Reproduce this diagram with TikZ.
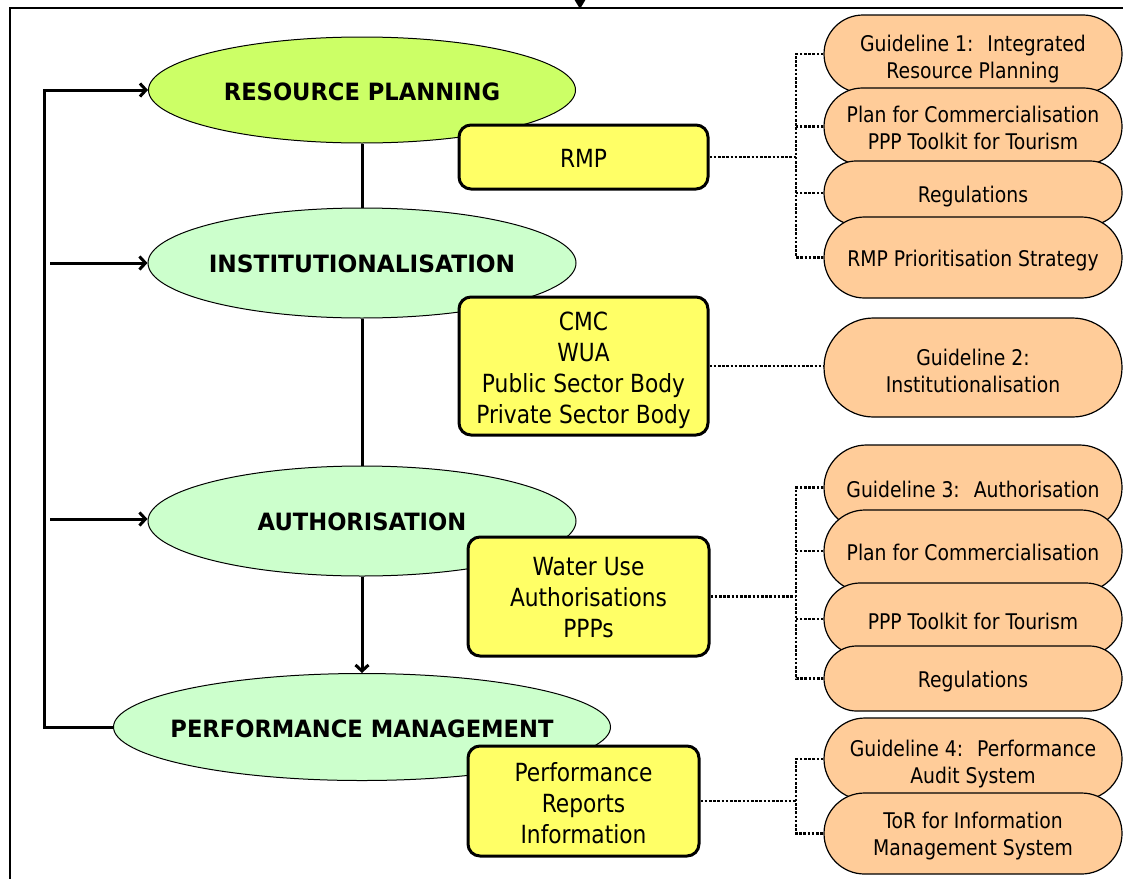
\documentclass[tikz,border=0pt]{standalone}
\usepackage{fontspec}
\setmainfont[FakeStretch=0.87]{DejaVu Sans}
\newfontfamily\ellfont[FakeStretch=0.95]{DejaVu Sans}
\usetikzlibrary{shapes.geometric,shapes.misc,arrows.meta}
\definecolor{cLime}{HTML}{CCFF66}
\definecolor{cMint}{HTML}{CCFFCC}
\definecolor{cYel}{HTML}{FFFF66}
\definecolor{cOrange}{HTML}{FFCC99}
\begin{document}
\begin{tikzpicture}[x=1pt,y=-1pt,
  stage/.style={ellipse, draw, line width=1pt, inner sep=0pt},
  stagetext/.style={inner sep=0pt, font=\ellfont\bfseries\fontsize{23.8}{28}\selectfont},
  infobox/.style={draw, line width=3pt, rounded corners=12pt, fill=cYel, inner sep=0pt},
  boxtext/.style={inner sep=0pt, align=center, font=\fontsize{25}{31}\selectfont},
  pill/.style={rounded rectangle, draw, line width=1.2pt, fill=cOrange, minimum width=298pt, inner sep=0pt},
  pilltext/.style={inner sep=0pt, align=center, font=\fontsize{21.6}{27}\selectfont},
  flow/.style={line width=3pt, -{Straight Barb[length=6pt,width=13pt,line width=3pt]}},
  link/.style={line width=3pt},
  dots/.style={line width=2.6pt, dash pattern=on 2.6pt off 1.6pt}
]
\useasboundingbox (0,0) rectangle (1123,878);

% frame
\draw[line width=2pt] (10,880) -- (10,8) -- (1125,8);
\coordinate (topin) at (580,-10);
\coordinate (topend) at (580,9);
\draw[line width=3pt, -{Triangle[length=14pt,width=16pt]}] (topin) -- (topend);

% stages
\node[stage, fill=cLime, minimum width=427pt, minimum height=106pt] (rp) at (362,90) {};
\node[stagetext] (rpt) at (362,92) {RESOURCE PLANNING};
\node[stage, fill=cMint, minimum width=428pt, minimum height=110pt] (inst) at (362,263) {};
\node[stagetext, xscale=1.03] (instt) at (362,264) {INSTITUTIONALISATION};
\node[stage, fill=cMint, minimum width=428pt, minimum height=110pt] (auth) at (362,521) {};
\node[stagetext] (autht) at (362,522) {AUTHORISATION};
\node[stage, fill=cMint, minimum width=497pt, minimum height=107pt] (pm) at (362,727) {};
\node[stagetext] (pmt) at (362,729) {PERFORMANCE MANAGEMENT};

% stage links
\draw[link] (rp.south) -- (inst.north);
\draw[link] (inst.south) -- (auth.north);
\draw[flow] (auth.south) -- (pm.north);
\draw[flow] (pm.west) -- ++(-69,0) |- (rp.west);
\coordinate (in2) at (50,263);
\coordinate (in3) at (50,519);
\draw[flow] (in2) -- (inst.west);
\draw[flow] (in3) -- (in3 -| auth.west);

% info boxes
\node[infobox, minimum width=249pt, minimum height=64pt] (rmp) at (583.5,157) {};
\node[boxtext] (rmpt) at (583.5,158) {RMP};
\node[infobox, minimum width=249pt, minimum height=138pt] (cmc) at (583.5,366) {};
\node[boxtext] (cmct) at (583.5,370) {CMC\\WUA\\Public Sector Body\\Private Sector Body};
\node[infobox, minimum width=241pt, minimum height=119pt] (wua) at (588.5,596.5) {};
\node[boxtext] (wuat) at (588.5,598) {Water Use\\Authorisations\\PPPs};
\node[infobox, minimum width=231pt, minimum height=110pt] (perf) at (583.5,801) {};
\node[boxtext] (perft) at (583.5,803) {Performance\\Reports\\Information};

% guideline pills
\node[pill, minimum height=78pt] (g1) at (973,54) {};
\node[pilltext] (g1t) at (973,59.5) {Guideline 1:~ Integrated\\Resource Planning};
\node[pill, minimum height=77pt] (g2) at (973,126.5) {};
\node[pilltext] (g2t) at (973,128) {Plan for Commercialisation\\PPP Toolkit for Tourism};
\node[pill, minimum height=64pt] (g3) at (973,193) {};
\node[pilltext] (g3t) at (973,197) {Regulations};
\node[pill, minimum height=81pt] (g4) at (973,257.5) {};
\node[pilltext] (g4t) at (973,261) {RMP Prioritisation Strategy};
\node[pill, minimum height=99pt] (g5) at (973,367.5) {};
\node[pilltext] (g5t) at (973,370.5) {Guideline 2:\\Institutionalisation};
\node[pill, minimum height=85pt] (g6) at (973,487.5) {};
\node[pilltext] (g6t) at (973,489) {Guideline 3:~ Authorisation};
\node[pill, minimum height=82pt] (g7) at (973,551) {};
\node[pilltext] (g7t) at (973,552.5) {Plan for Commercialisation};
\node[pill, minimum height=72pt] (g8) at (973,619) {};
\node[pilltext] (g8t) at (973,621) {PPP Toolkit for Tourism};
\node[pill, minimum height=65pt] (g9) at (973,678.5) {};
\node[pilltext] (g9t) at (973,681.5) {Regulations};
\node[pill, minimum height=82pt] (g10) at (973,759) {};
\node[pilltext] (g10t) at (973,764) {Guideline 4:~ Performance\\Audit System};
\node[pill, minimum height=81pt] (g11) at (973,833.5) {};
\node[pilltext] (g11t) at (973,836.5) {ToR for Information\\Management System};

% dotted connectors
\coordinate (bus) at (796,0);
\draw[dots] (rmp.east) -- (rmp.east -| bus);
\draw[dots] (g1.west) -- (g1.west -| bus) -- (g4.west -| bus) -- (g4.west);
\draw[dots] (g2.west) -- (g2.west -| bus);
\draw[dots] (g3.west) -- (g3.west -| bus);
\draw[dots] (cmc.east) -- (cmc.east -| g5.west);
\draw[dots] (wua.east) -- (wua.east -| bus);
\draw[dots] (g6.west) -- (g6.west -| bus) -- (g9.west -| bus) -- (g9.west);
\draw[dots] (g7.west) -- (g7.west -| bus);
\draw[dots] (g8.west) -- (g8.west -| bus);
\draw[dots] (perf.east) -- (perf.east -| bus);
\draw[dots] (g10.west) -- (g10.west -| bus) -- (g11.west -| bus) -- (g11.west);
\end{tikzpicture}
\end{document}
